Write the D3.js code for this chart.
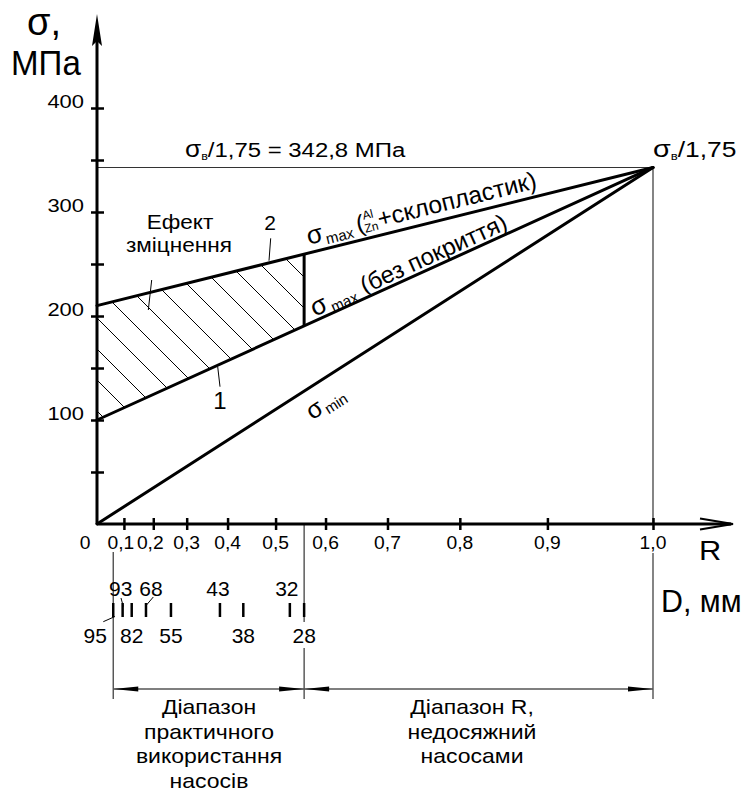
<!DOCTYPE html>
<html><head><meta charset="utf-8">
<script src="https://cdn.jsdelivr.net/npm/d3@7"></script>
<style>
body{margin:0;background:#fff}
svg{display:block}
text{font-family:"Liberation Sans",Arial,sans-serif;fill:#000}
</style>
</head><body>
<svg id="c" width="750" height="791"></svg>
<script>
// ---------------- data ----------------
const sigmaLimit = 342.8;                       // σв/1,75, MPa
const yTickValues = [50,100,150,200,250,300,350,400];
const yTickLabels = [100,200,300,400];
const rTickValues = [0.1,0.2,0.3,0.4,0.5,0.6,0.7,0.8,0.9,1.0];
const rTickLabels = ["0,1","0,2","0,3","0,4","0,5","0,6","0,7","0,8","0,9","1,0"];
const rTickSigmaMin = [16.6,34.7,55.3,80.5,110.1,140.9,179.1,223.7,277.7,342.8]; // σmin where R tick lies
const dValues = [95,93,82,68,55,43,38,32,28];    // D, mm
const dSigmaMin = [10.0,15.8,21.4,30.2,45.6,75.8,90.2,118.9,127.7];
const dLabelAbove = [false,true,false,true,false,true,false,true,false];
const seriesNames = ["sigmaMin","sigmaMaxBare","sigmaMaxCoated"];
const seriesStart = [0,100,210];                 // σ at σmin = 0
const seriesEnd = [342.8,342.8,342.8];           // σ at σmin = σв/1,75
const practicalLimitSigmaMin = 127.7;            // R ≈ 0,557 (D = 28 mm)

// ---------------- layout ----------------
const svg = d3.select("#c");
const x = d3.scaleLinear().domain([0, sigmaLimit]).range([97, 653]);
const y = d3.scaleLinear().domain([0, 400]).range([524, 108]);
const val = (i, s) => seriesStart[i] + (seriesEnd[i] - seriesStart[i]) * s / sigmaLimit;
const labelNudge = {95:-18, 93:-2, 68:5, 43:-2, 32:-3};

function stext(parent, px, py, sx, size, anchor) {
  const g = parent.append("g").attr("transform", `translate(${px},${py}) scale(${sx},1)`);
  return g.append("text").attr("font-size", size).attr("text-anchor", anchor || "start");
}
function seg(parent, x1, y1, x2, y2, w, col) {
  return parent.append("line").attr("x1",x1).attr("y1",y1).attr("x2",x2).attr("y2",y2)
    .attr("stroke", col || "#000").attr("stroke-width", w);
}

// ---------------- hatched region ----------------
const area = d3.area().x(d => x(d)).y0(d => y(val(1,d))).y1(d => y(val(2,d)));
svg.append("clipPath").attr("id","hclip").append("path").attr("d", area([0, practicalLimitSigmaMin]));
const hatch = svg.append("g").attr("clip-path","url(#hclip)");
hatch.selectAll("line").data(d3.range(-60, 340, 31)).join("line")
  .attr("x1", 60).attr("y1", c => 60 + c + 2)
  .attr("x2", 360).attr("y2", c => 360 + c + 2)
  .attr("stroke","#000").attr("stroke-width",1);

// ---------------- thin construction lines ----------------
seg(svg, x(0), y(sigmaLimit), x(sigmaLimit), y(sigmaLimit), 1.2, "#333");
seg(svg, x(sigmaLimit), y(sigmaLimit), x(sigmaLimit), 524, 1.2, "#333");
seg(svg, x(sigmaLimit), 553, x(sigmaLimit), 699, 1.2, "#333");
seg(svg, x(dSigmaMin[0]), 552, x(dSigmaMin[0]), 699, 1.2, "#333");
seg(svg, x(practicalLimitSigmaMin), 524, x(practicalLimitSigmaMin), 622, 1.2, "#333");
seg(svg, x(practicalLimitSigmaMin), 648, x(practicalLimitSigmaMin), 699, 1.2, "#333");

// ---------------- series lines ----------------
const lg = d3.line().x(d => x(d.s)).y(d => y(d.v));
svg.append("g").selectAll("path").data(seriesNames).join("path")
  .attr("d", (n,i) => lg([{s:0, v:seriesStart[i]}, {s:sigmaLimit, v:seriesEnd[i]}]))
  .attr("fill","none").attr("stroke","#000").attr("stroke-width",3).attr("stroke-linecap","round");
seg(svg, x(practicalLimitSigmaMin), y(val(1,practicalLimitSigmaMin)),
          x(practicalLimitSigmaMin), y(val(2,practicalLimitSigmaMin)), 3);

// ---------------- axes ----------------
const yAxis = svg.append("g").attr("transform", `translate(${x(0)},0)`)
  .call(d3.axisLeft(y).tickValues(yTickValues).tickFormat("").tickSizeOuter(0));
yAxis.select(".domain").remove();
yAxis.selectAll(".tick line").attr("x1", 7).attr("x2", -6).attr("stroke-width", 2.5);
const xAxis = svg.append("g").attr("transform", `translate(0,${y(0)})`)
  .call(d3.axisBottom(x).tickValues(rTickSigmaMin).tickFormat("").tickSizeOuter(0));
xAxis.select(".domain").remove();
xAxis.selectAll(".tick line").attr("y1", -6).attr("y2", 6).attr("stroke-width", 2.5);

seg(svg, x(0), y(0), x(0), 30, 3);
svg.append("path").attr("d", `M${x(0)},14 L${x(0)-5},46 L${x(0)},41 L${x(0)+5},46 Z`).attr("fill","#000");
seg(svg, x(0), y(0), 731, y(0), 3);
svg.append("path").attr("d", `M700,518.5 L733,524 L700,529.5`).attr("fill","none").attr("stroke","#000").attr("stroke-width",2.2);

// tick labels
yTickLabels.forEach(v => stext(svg, 84, y(v), 1.22, 18, "end").text(v));
rTickLabels.forEach((l,i) => stext(svg, x(rTickSigmaMin[i]) - (i<2 ? 3 : 0), 548.5, 1.07, 18, "middle").text(l));
stext(svg, 85, 548.5, 1.07, 18, "middle").text("0");

// axis titles
stext(svg, 27, 35, 1.0, 38).text("σ,");
stext(svg, 11, 75, 0.92, 36).text("МПа");
stext(svg, 699, 560, 1.1, 28).text("R");
stext(svg, 661, 612, 0.98, 31).text("D, мм");

// ---------------- D scale ----------------
const dg = svg.append("g");
dg.selectAll("line").data(dSigmaMin).join("line")
  .attr("x1", d => x(d)).attr("x2", d => x(d)).attr("y1", 603).attr("y2", 617)
  .attr("stroke","#000").attr("stroke-width",2.5);
dValues.forEach((d,i) => {
  stext(dg, x(dSigmaMin[i]) + (labelNudge[d] || 0), dLabelAbove[i] ? 595.5 : 642.5, 1.0, 21, "middle").text(d);
});
seg(dg, 121, 598, 123.3, 606.5, 1);
seg(dg, 153.3, 597, 146.5, 605, 1);
seg(dg, 115, 616.5, 103.3, 621.7, 1);

// ---------------- dimension arrows ----------------
function arrowHead(px, py, dir) {
  svg.append("path").attr("d", `M${px},${py} L${px - dir*25},${py-2.6} L${px - dir*25},${py+2.6} Z`).attr("fill","#000");
}
const yDim = 689;
seg(svg, x(dSigmaMin[0]), yDim, x(sigmaLimit), yDim, 1.3, "#555");
arrowHead(x(dSigmaMin[0]), yDim, -1);
arrowHead(x(practicalLimitSigmaMin), yDim, 1);
arrowHead(x(practicalLimitSigmaMin), yDim, -1);
arrowHead(x(sigmaLimit), yDim, 1);

const leftLines = ["Діапазон","практичного","використання","насосів"];
const rightLines = ["Діапазон R,","недосяжний","насосами"];
leftLines.forEach((t,i) => stext(svg, 209, 714 + i*24.5, 1.15, 20, "middle").text(t));
rightLines.forEach((t,i) => stext(svg, 472, 714 + i*24.5, 1.15, 20, "middle").text(t));

// ---------------- annotations ----------------
const topLbl = stext(svg, 185, 157, 1.14, 21);
topLbl.append("tspan").attr("font-size", 23).text("σ");
topLbl.append("tspan").attr("font-size", 11).attr("dy", 3).text("в");
topLbl.append("tspan").attr("dy", -3).text("/1,75 = 342,8 МПа");
const rtLbl = stext(svg, 653, 157, 1.2, 22);
rtLbl.append("tspan").attr("font-size", 24).text("σ");
rtLbl.append("tspan").attr("font-size", 11).attr("dy", 3).text("в");
rtLbl.append("tspan").attr("dy", -3).text("/1,75");

stext(svg, 180, 229, 1.13, 20, "middle").text("Ефект");
stext(svg, 179, 252, 1.13, 20, "middle").text("зміцнення");
seg(svg, 148.3, 310, 151.7, 280, 1);
stext(svg, 270, 230, 1.0, 21, "middle").text("2");
seg(svg, 270.7, 238.3, 269, 260.7, 1);
stext(svg, 220, 409, 1.0, 24, "middle").text("1");
seg(svg, 217.7, 366.7, 220, 386.7, 1);

function rotGroup(i, s) {
  const a = Math.atan2(y(seriesEnd[i]) - y(seriesStart[i]), x(sigmaLimit) - x(0)) * 180 / Math.PI;
  return svg.append("g").attr("transform", `translate(${x(s)},${y(val(i,s))}) rotate(${a})`);
}
// coated
const g2 = rotGroup(2, x.invert(304));
g2.append("text").attr("x", 7).attr("y", -8).attr("font-size", 26).text("σ");
g2.append("text").attr("x", 25).attr("y", -4).attr("font-size", 15).text("max");
g2.append("text").attr("x", 58).attr("y", -8).attr("font-size", 24).text("(");
g2.append("text").attr("x", 66).attr("y", -19).attr("font-size", 12).text("Al");
g2.append("text").attr("x", 65).attr("y", -6).attr("font-size", 12).text("Zn");
g2.append("text").attr("x", 80).attr("y", -8).attr("font-size", 24.5).text("+склопластик)");
// bare
const g1 = rotGroup(1, x.invert(310));
g1.append("text").attr("x", 7).attr("y", -4).attr("font-size", 26).text("σ");
g1.append("text").attr("x", 26).attr("y", 0).attr("font-size", 15).text("max");
g1.append("text").attr("x", 62).attr("y", -4).attr("font-size", 24).text("(без покриття)");
// min
const g0 = rotGroup(0, x.invert(300));
g0.append("text").attr("x", -4).attr("y", 29).attr("font-size", 25).text("σ");
g0.append("text").attr("x", 13).attr("y", 33).attr("font-size", 15).text("min");
</script>
</body></html>
